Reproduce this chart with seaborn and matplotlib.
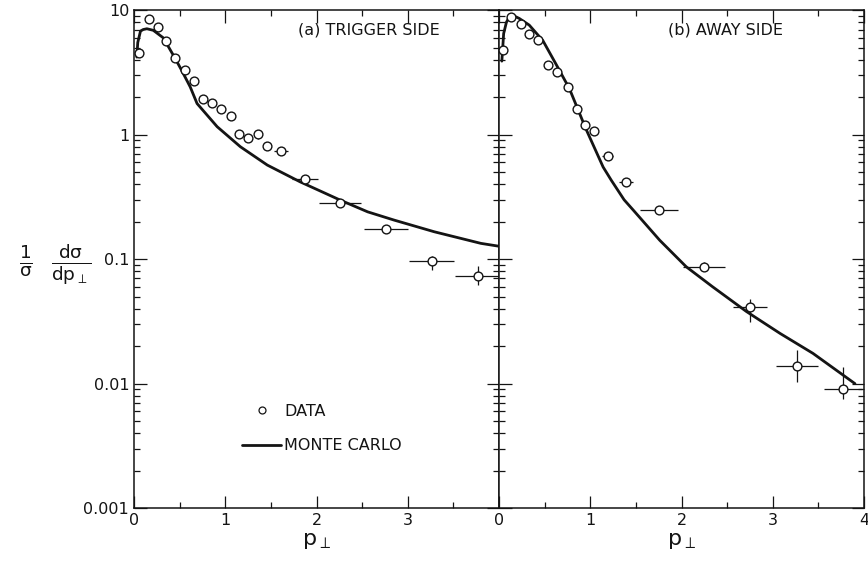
"""
Distribución en p_perp: datos vs Monte Carlo (lado trigger / lado away)
"""

import numpy as np
import pandas as pd
import matplotlib
matplotlib.use('Agg')
import matplotlib.pyplot as plt
import matplotlib.ticker as mticker
from matplotlib.lines import Line2D
import seaborn as sns

# (a) lado trigger - datos
trig_x = [0.05, 0.16, 0.26, 0.35, 0.45, 0.56, 0.66, 0.76, 0.85, 0.95, 1.06,
          1.15, 1.25, 1.36, 1.46, 1.61, 1.87, 2.26, 2.76, 3.26, 3.77]
trig_y = [4.5, 8.5, 7.3, 5.7, 4.1, 3.3, 2.7, 1.95, 1.8, 1.62, 1.41,
          1.01, 0.94, 1.01, 0.81, 0.74, 0.44, 0.285, 0.175, 0.096, 0.073]
trig_xerr = [0, 0, 0, 0, 0, 0, 0, 0, 0, 0, 0,
             0, 0, 0, 0, 0.08, 0.14, 0.23, 0.24, 0.25, 0.25]
trig_ylo = [4.5, 8.5, 7.3, 5.7, 4.1, 3.3, 2.7, 1.95, 1.8, 1.62, 1.41,
            1.01, 0.94, 0.93, 0.81, 0.74, 0.41, 0.27, 0.165, 0.082, 0.062]
trig_yhi = [4.5, 8.5, 7.3, 5.7, 4.1, 3.3, 2.7, 1.95, 1.8, 1.62, 1.41,
            1.01, 0.94, 1.10, 0.81, 0.74, 0.47, 0.30, 0.185, 0.107, 0.088]

# (a) lado trigger - Monte Carlo
mc_trig_x = [0.03, 0.04, 0.07, 0.10, 0.14, 0.21, 0.32, 0.45, 0.52, 0.615,
             0.69, 0.91, 1.165, 1.46, 1.82, 2.26, 2.56, 2.85, 3.29, 3.80, 4.0]
mc_trig_y = [4.2, 5.5, 6.8, 7.0, 7.1, 6.9, 6.0, 4.1, 3.3, 2.42,
             1.78, 1.16, 0.80, 0.57, 0.418, 0.298, 0.24, 0.206, 0.166, 0.134, 0.127]

# (b) lado away - datos
away_x = [0.04, 0.135, 0.24, 0.33, 0.43, 0.54, 0.64, 0.75, 0.85, 0.945, 1.04,
          1.19, 1.39, 1.75, 2.25, 2.75, 3.26, 3.77]
away_y = [4.8, 8.8, 7.8, 6.5, 5.8, 3.6, 3.2, 2.42, 1.62, 1.19, 1.07,
          0.67, 0.42, 0.248, 0.087, 0.041, 0.0138, 0.009]
away_xerr = [0, 0, 0, 0, 0, 0, 0, 0, 0, 0, 0,
             0.06, 0.08, 0.21, 0.23, 0.19, 0.23, 0.21]
away_ylo = [4.8, 8.8, 7.8, 6.5, 5.8, 3.6, 3.2, 2.42, 1.62, 1.19, 1.07,
            0.63, 0.39, 0.235, 0.080, 0.031, 0.0104, 0.0075]
away_yhi = [4.8, 8.8, 7.8, 6.5, 5.8, 3.6, 3.2, 2.42, 1.62, 1.19, 1.07,
            0.71, 0.45, 0.26, 0.095, 0.048, 0.0186, 0.0135]

# (b) lado away - Monte Carlo
mc_away_x = [0.03, 0.05, 0.08, 0.11, 0.15, 0.22, 0.33, 0.48, 0.62, 0.77, 0.95,
             1.14, 1.23, 1.37, 1.47, 1.76, 2.05, 2.34, 2.71, 3.08, 3.44, 3.90]
mc_away_y = [3.9, 6.5, 8.0, 8.8, 9.1, 8.6, 7.6, 5.7, 3.73, 2.35, 1.12,
             0.55, 0.43, 0.30, 0.248, 0.142, 0.087, 0.060, 0.038, 0.0253, 0.0175, 0.010]

x_ticks = [0, 1, 2, 3, 4]
y_ticks = [0.001, 0.01, 0.1, 1, 10]
y_ticklabels = ['0.001', '0.01', '0.1', '1', '10']

INK = '#141414'

sns.set_style('ticks')
plt.rcParams['font.family'] = ['DejaVu Sans']
plt.rcParams['mathtext.fontset'] = 'dejavusans'

fig = plt.figure(figsize=(8.68, 5.69), dpi=100)
ax_a = fig.add_axes([0.1545, 0.107, 0.4205, 0.875])
ax_b = fig.add_axes([0.575, 0.107, 0.4205, 0.875], sharey=ax_a)


def draw_panel(ax, x, y, xerr, ylo, yhi, mc_x, mc_y):
    df = pd.DataFrame({'x': x, 'y': y})
    mc = pd.DataFrame({'x': mc_x, 'y': mc_y})
    yerr = [np.array(y) - np.array(ylo), np.array(yhi) - np.array(y)]
    ax.errorbar(x, y, xerr=xerr, yerr=yerr, fmt='none', ecolor=INK,
                elinewidth=0.9, capsize=0, zorder=2)
    sns.lineplot(data=mc, x='x', y='y', ax=ax, color=INK, lw=2.0,
                 sort=False, zorder=3)
    sns.scatterplot(data=df, x='x', y='y', ax=ax, marker='o', s=40,
                    facecolor='white', edgecolor=INK, linewidth=1.0, zorder=4)

    ax.set_yscale('log')
    ax.set_xlim(0, 4)
    ax.set_ylim(0.001, 10)
    ax.set_xticks(x_ticks)
    ax.xaxis.set_minor_locator(mticker.MultipleLocator(0.5))
    ax.yaxis.set_minor_locator(mticker.LogLocator(base=10, subs=np.arange(2, 10)))
    ax.yaxis.set_minor_formatter(mticker.NullFormatter())
    ax.tick_params(which='both', direction='in', top=True, right=True,
                   colors=INK, labelsize=11.5, width=0.9)
    ax.tick_params(which='major', length=9)
    ax.tick_params(which='minor', length=4)
    for sp in ax.spines.values():
        sp.set_linewidth(1.1)
        sp.set_color(INK)
    ax.set_xlabel(r'$\mathregular{p_{\perp}}$', fontsize=16, color=INK, labelpad=2)
    ax.set_ylabel('')


draw_panel(ax_a, trig_x, trig_y, trig_xerr, trig_ylo, trig_yhi, mc_trig_x, mc_trig_y)
draw_panel(ax_b, away_x, away_y, away_xerr, away_ylo, away_yhi, mc_away_x, mc_away_y)

ax_a.set_yticks(y_ticks)
ax_a.set_yticklabels(y_ticklabels)
ax_a.set_xticklabels(['0', '1', '2', '3', ''])
plt.setp(ax_b.get_yticklabels(), visible=False)

ax_a.text(0.45, 0.96, '(a) TRIGGER SIDE', transform=ax_a.transAxes,
          fontsize=11.5, color=INK, va='center', ha='left')
ax_b.text(0.462, 0.96, '(b) AWAY SIDE', transform=ax_b.transAxes,
          fontsize=11.5, color=INK, va='center', ha='left')

handles = [
    Line2D([], [], marker='o', ls='none', markersize=5, markerfacecolor='white',
           markeredgecolor=INK, markeredgewidth=0.9),
    Line2D([], [], color=INK, lw=2.0),
]
ax_a.legend(handles, ['DATA', 'MONTE CARLO'], frameon=False, loc='upper left',
            bbox_to_anchor=(0.275, 0.225), fontsize=11.5, borderpad=0,
            handlelength=2.4, handletextpad=0.2, labelspacing=1.2,
            labelcolor=INK)

fig.text(0.063, 0.535, r'$\mathregular{\frac{1}{\sigma}\ \ \frac{d\sigma}{dp_{\perp}}}$',
         fontsize=19, color=INK, ha='center', va='center')

fig.savefig('out.png', dpi=100)
plt.close(fig)
